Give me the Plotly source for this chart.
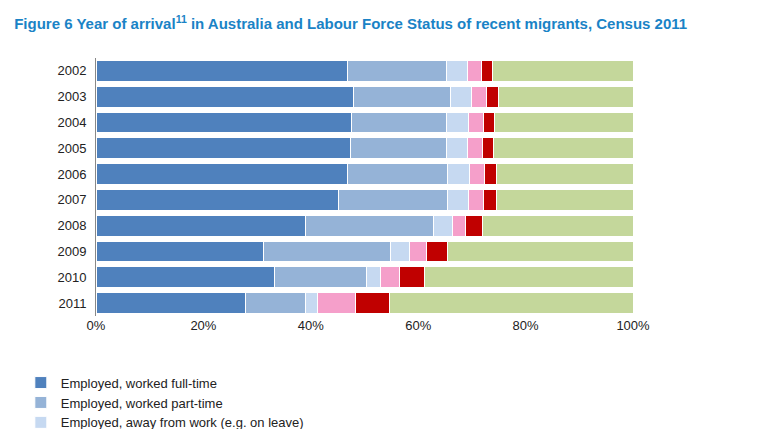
import plotly.graph_objects as go

years = ["2002", "2003", "2004", "2005", "2006", "2007", "2008", "2009", "2010", "2011"]
# shares (%)
full_time = [46.9, 48.0, 47.5, 47.3, 46.9, 45.1, 39.1, 31.1, 33.3, 27.9]
part_time = [18.3, 18.1, 17.7, 17.9, 18.6, 20.4, 23.7, 23.8, 17.0, 11.2]
away = [3.9, 3.9, 4.1, 3.9, 4.0, 3.8, 3.5, 3.4, 2.6, 2.1]
unemp_ft = [2.6, 2.8, 2.8, 2.8, 2.8, 2.8, 2.6, 3.2, 3.7, 7.2]
unemp_pt = [2.2, 2.1, 2.2, 2.2, 2.2, 2.4, 3.0, 3.9, 4.5, 6.3]
not_lf = [26.1, 25.1, 25.7, 25.9, 25.5, 25.5, 28.1, 34.6, 38.9, 45.3]

series = [
    ("Employed, worked full-time", full_time, "#4f81bd"),
    ("Employed, worked part-time", part_time, "#95b3d7"),
    ("Employed, away from work (e.g. on leave)", away, "#c6d9f1"),
    ("Unemployed, looking for full-time work", unemp_ft, "#f59fca"),
    ("Unemployed, looking for part-time work", unemp_pt, "#c00000"),
    ("Not in the labour force", not_lf, "#c4d79b"),
]

fig = go.Figure()
for name, vals, col in series:
    fig.add_trace(go.Bar(
        y=years, x=[v / 100 for v in vals], name=name, orientation="h",
        marker=dict(color=col, line=dict(color="white", width=1)),
    ))

fig.update_layout(
    barmode="stack",
    bargap=0.2,
    width=769, height=429,
    paper_bgcolor="white", plot_bgcolor="white",
    font=dict(family="Liberation Sans, Arial", size=13, color="#222"),
    title=dict(
        text="<b>Figure 6 Year of arrival<sup>11</sup> in Australia and Labour Force Status of recent migrants, Census 2011</b>",
        x=0.008, y=0.975, xanchor="left", font=dict(size=15, color="#1a83c6"),
    ),
    margin=dict(l=88, r=144, t=50, b=121, autoexpand=False),
    xaxis=dict(range=[0, 1], tickformat=".0%", dtick=0.2, showgrid=False,
               ticks="", zeroline=False, showline=False),
    yaxis=dict(categoryorder="array", categoryarray=years[::-1],
               ticks="outside", ticklen=6, tickcolor="white",
               showline=True, linecolor="#888"),
    legend=dict(orientation="h", x=-0.14, y=-0.2, xanchor="left", yanchor="top",
                entrywidth=330, traceorder="normal", font=dict(size=13),
                tracegroupgap=2),
)

fig.write_html("out.html")
